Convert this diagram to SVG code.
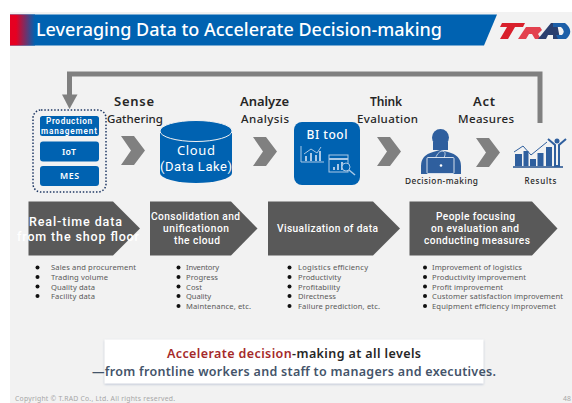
<svg xmlns="http://www.w3.org/2000/svg" width="572" height="403" viewBox="0 0 572 403">
<defs>
<linearGradient id="hg2" gradientUnits="userSpaceOnUse" x1="16" x2="35" y1="0" y2="0"><stop offset="0" stop-color="#e60021"/><stop offset="1" stop-color="#0062b1"/></linearGradient>
<filter id="sh" x="-5%" y="-10%" width="110%" height="125%"><feDropShadow dx="0" dy="1" stdDeviation="1" flood-color="#7f93b5" flood-opacity="0.5"/></filter>
<path id="chev" d="M0 0H13L24 14.500L13 29H0L10 14.500Z" fill="#808080"/>
</defs>
<style>
text{font-family:"Noto Sans","Open Sans",sans-serif}
.w{fill:#fff;text-anchor:middle}
.b{fill:#0062b1}
.h{font-size:13px;font-weight:600;fill:#262626;text-anchor:middle}
.s{font-size:11.500px;font-weight:500;fill:#262626;text-anchor:middle}
.p{fill:#595959}
.pt{fill:#fff;text-anchor:middle;font-size:10.200px;font-weight:500;font-family:Roboto,sans-serif}
.pb{fill:#fff;text-anchor:middle;font-size:12.500px;font-weight:500;font-family:Roboto,sans-serif}
.l{font-size:7.600px;fill:#595959}
.d{fill:#111}
.i{fill:#2f5f9e}
.bl{fill:none;stroke:#a9c8e6;stroke-width:1}
</style>
<rect width="572" height="403" fill="#fff"/>
<rect x="10" y="12" width="562" height="391" fill="#f2f2f2"/>
<g id="header">
<path d="M10 14.500H497L484 45.500H10Z" fill="#0062b1"/>
<rect x="10" y="14.500" width="25" height="31" fill="url(#hg2)"/>
<text x="36" y="36" font-size="18" font-weight="500" fill="#fff" textLength="406">Leveraging Data to Accelerate Decision-making</text>
</g>
<g id="logo">
<path d="M502 23H525L523 27H515L508 39H500L507 27H500Z" fill="#d9202c"/>
<path d="M518 39L526 27H540L542 30L538 34L541 39H535L532 34H529L526 39Z" fill="#e3414e"/>
<path d="M538 39L551 23H557L560 39H553L553 35H548L546 39Z" fill="#2a3f6f"/>
<path d="M553 23H565Q575 31 566 39H558L556 35H562Q566 31 561 27H553Z" fill="#1d5fa8"/>
</g>
<g id="connectors">
<path d="M540 123V74H69.500V96" fill="none" stroke="#808080" stroke-width="5"/>
<path d="M62 94.500H77.500L69.500 109Z" fill="#808080"/>
<use href="#chev" x="121" y="136"/>
<use href="#chev" x="253" y="137"/>
<use href="#chev" x="377" y="137"/>
<use href="#chev" x="476" y="138"/>
</g>
<g id="labels">
<text class="h" x="134" y="106" textLength="40">Sense</text>
<text class="s" x="135" y="123" textLength="56">Gathering</text>
<text class="h" x="264.500" y="106" textLength="49">Analyze</text>
<text class="s" x="265" y="123" textLength="48">Analysis</text>
<text class="h" x="386" y="106" textLength="32" style="font-size:12px">Think</text>
<text class="s" x="387.500" y="123" textLength="61">Evaluation</text>
<text class="h" x="484" y="106" textLength="22">Act</text>
<text class="s" x="486" y="123" textLength="56">Measures</text>
</g>
<g id="node-sources">
<rect x="33" y="110" width="73" height="82" rx="8" fill="none" stroke="#1f3864" stroke-width="1.500" stroke-dasharray="1.500 1.800"/>
<rect class="b" x="40" y="116" width="59" height="20" rx="2.500"/>
<text class="w" x="69" y="124" font-size="8.200" font-weight="600" textLength="46" style="font-family:Roboto,sans-serif">Production</text>
<text class="w" x="69" y="134" font-size="8.200" font-weight="600" textLength="56" style="font-family:Roboto,sans-serif">management</text>
<rect class="b" x="40" y="141.500" width="59" height="20" rx="3"/>
<text class="w" x="69" y="154.500" font-size="8.800" font-weight="600" textLength="14">IoT</text>
<rect class="b" x="40" y="166" width="59" height="20" rx="3"/>
<text class="w" x="69.500" y="179" font-size="8.800" font-weight="600" textLength="19">MES</text>
</g>
<g id="node-cloud">
<path class="b" d="M160 130V173A36 10 0 0 0 232 173V130Z"/>
<ellipse class="b" cx="196" cy="131" rx="36" ry="10.500" stroke="#f2f2f2" stroke-width="1"/>
<text class="w" x="196" y="155" font-size="13" textLength="38">Cloud</text>
<text class="w" x="196" y="171" font-size="13" textLength="72" style="font-family:Roboto,sans-serif">(Data Lake)</text>
</g>
<g id="node-bi">
<rect class="b" x="294" y="122" width="66" height="63" rx="8"/>
<text class="w" x="327" y="139" font-size="12" font-weight="500" textLength="41">BI tool</text>
<path class="bl" d="M301 146V162H324M304 154L311 149L317 153L321 147"/>
<path d="M306 161V156M311 161V153M316 161V155M320 161V151" stroke="#a9c8e6" stroke-width="2" fill="none"/>
<rect class="bl" x="329" y="155" width="19" height="17"/>
<path d="M329 159H348" stroke="#a9c8e6" stroke-width="2"/>
<path d="M334 170V167M338 170V164M342 170V162" stroke="#a9c8e6" stroke-width="2" fill="none"/>
<circle class="bl" cx="346" cy="167" r="4" style="fill:#0062b1"/>
<path d="M349 170L355 175" stroke="#a9c8e6" stroke-width="1.500"/>
</g>
<g id="node-decision">
<circle class="i" cx="440.500" cy="137.500" r="8.500"/>
<rect class="i" x="433" y="142" width="15" height="8"/>
<path class="i" d="M421 174V166Q421 155 433 152L440 150L448 152Q461 155 461 166V174Z"/>
<path d="M435 160Q437 152 442 151Q447 151 444 158" fill="none" stroke="#d9e4f0" stroke-width="0.800"/>
<rect x="427" y="157.500" width="27" height="16" rx="1" fill="#2f5f9e" stroke="#e8edf4" stroke-width="0.900"/>
<circle cx="441" cy="165.500" r="1.300" fill="#fff"/>
<text x="441.500" y="184" font-size="8.300" font-weight="500" fill="#262626" text-anchor="middle" textLength="73">Decision-making</text>
</g>
<g id="node-results">
<path d="M513 167H563" stroke="#1f4e8c" stroke-width="1.500"/>
<rect class="i" x="515" y="154" width="7" height="12"/>
<rect class="i" x="530" y="159" width="6" height="7"/>
<rect class="i" x="537.500" y="153" width="6" height="13"/>
<rect class="i" x="546" y="147" width="6" height="19"/>
<rect class="i" x="523.500" y="151" width="5" height="15"/>
<path d="M514 152L523 146L531 155L547 142" fill="none" stroke="#2f5f9e" stroke-width="1"/>
<circle class="i" cx="557" cy="141" r="2.500"/>
<path d="M548 139L555 145V166H559V145L566 139" fill="none" stroke="#2f5f9e" stroke-width="2"/>
<text x="540.500" y="184" font-size="8" font-weight="500" fill="#262626" text-anchor="middle" textLength="32">Results</text>
</g>
<g id="node-step1">
<path class="p" d="M28.500 201.500H113L140 228.500L113 255.500H28.500Z"/>
<text class="pb" x="75.500" y="226" textLength="93">Real-time data</text>
<text class="pb" x="78" y="241" textLength="122">from the shop floor</text>
<g class="l">
<circle class="d" cx="37.500" cy="267.500" r="2"/><circle class="d" cx="37.500" cy="277" r="2"/><circle class="d" cx="37.500" cy="286.500" r="2"/><circle class="d" cx="37.500" cy="296" r="2"/>
<text x="51" y="270" textLength="85">Sales and procurement</text>
<text x="51" y="279.500" textLength="57">Trading volume</text>
<text x="51" y="289.500" textLength="44">Quality data</text>
<text x="51" y="299" textLength="44">Facility data</text>
</g>
</g>
<g id="node-step2">
<path class="p" d="M150 201.500H231L257.500 228.500L231 255.500H150Z"/>
<text class="pt" x="195.500" y="220" textLength="89">Consolidation and</text>
<text class="pt" x="196" y="232" textLength="66">unificationon</text>
<text class="pt" x="197" y="244" textLength="46">the cloud</text>
<g class="l">
<circle class="d" cx="178.500" cy="267.500" r="2"/><circle class="d" cx="178.500" cy="277" r="2"/><circle class="d" cx="178.500" cy="286.500" r="2"/><circle class="d" cx="178.500" cy="296" r="2"/><circle class="d" cx="178.500" cy="306" r="2"/>
<text x="186" y="270" textLength="33">Inventory</text>
<text x="186" y="279.500" textLength="32">Progress</text>
<text x="186" y="289.500" textLength="16">Cost</text>
<text x="186" y="299" textLength="25">Quality</text>
<text x="186" y="309" textLength="65">Maintenance, etc.</text>
</g>
</g>
<g id="node-step3">
<path class="p" d="M268 201.500H373L400 228.500L373 255.500H268Z"/>
<text class="pt" x="327.500" y="232" textLength="101">Visualization of data</text>
<g class="l">
<circle class="d" cx="289.500" cy="267.500" r="2"/><circle class="d" cx="289.500" cy="277" r="2"/><circle class="d" cx="289.500" cy="286.500" r="2"/><circle class="d" cx="289.500" cy="296" r="2"/><circle class="d" cx="289.500" cy="306" r="2"/>
<text x="298" y="270" textLength="70">Logistics efficiency</text>
<text x="298" y="279.500" textLength="43">Productivity</text>
<text x="298" y="289.500" textLength="42">Profitability</text>
<text x="298" y="299" textLength="38">Directness</text>
<text x="298" y="309" textLength="82">Failure prediction, etc.</text>
</g>
</g>
<g id="node-step4">
<path class="p" d="M409.500 201.500H532L557.500 228.500L532 255.500H409.500Z"/>
<text class="pt" x="475.500" y="220" textLength="79">People focusing</text>
<text class="pt" x="475" y="232" textLength="88">on evaluation and</text>
<text class="pt" x="477" y="244" textLength="106">conducting measures</text>
<g class="l">
<circle class="d" cx="425" cy="267.500" r="2"/><circle class="d" cx="425" cy="277" r="2"/><circle class="d" cx="425" cy="286.500" r="2"/><circle class="d" cx="425" cy="296" r="2"/><circle class="d" cx="425" cy="306" r="2"/>
<text x="432" y="270" textLength="90">Improvement of logistics</text>
<text x="432" y="279.500" textLength="94">Productivity improvement</text>
<text x="432" y="289.500" textLength="71">Profit improvement</text>
<text x="432" y="299" textLength="131">Customer satisfaction improvement</text>
<text x="432" y="309" textLength="124">Equipment efficiency improvemet</text>
</g>
</g>
<g id="callout">
<rect x="104.500" y="339.500" width="379" height="44" fill="#fff" filter="url(#sh)"/>
<text x="167" y="358" font-size="12.500" font-weight="600" fill="#262626" textLength="254"><tspan fill="#a52a2a">Accelerate decision</tspan>-making at all levels</text>
<text x="92" y="376" font-size="12.500" font-weight="600" fill="#44546a" textLength="404">—from frontline workers and staff to managers and executives.</text>
</g>
<g id="footer">
<text x="15" y="401" font-size="6.800" fill="#a6a6a6" textLength="160">Copyright © T.RAD Co., Ltd. All rights reserved.</text>
<text x="563" y="401" font-size="6.800" fill="#a6a6a6">48</text>
</g>
</svg>
